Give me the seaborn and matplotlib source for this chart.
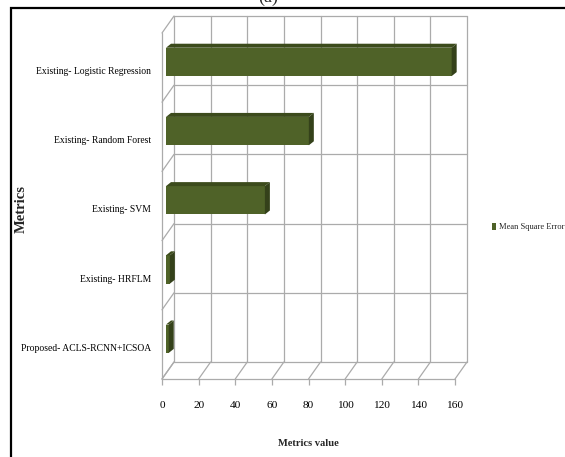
import numpy as np
import pandas as pd
import seaborn as sns
import matplotlib
matplotlib.use("Agg")
import matplotlib.pyplot as plt
from matplotlib.patches import Polygon, Rectangle
from matplotlib.lines import Line2D
from matplotlib.transforms import ScaledTranslation

# ---- data ----
models = [
    "Existing- Logistic Regression",
    "Existing- Random Forest",
    "Existing- SVM",
    "Existing- HRFLM",
    "Proposed- ACLS-RCNN+ICSOA",
]
mse = [156, 78, 54, 2.1, 1.5]
x_ticks = [0, 20, 40, 60, 80, 100, 120, 140, 160]
series_name = "Mean Square Error"

df = pd.DataFrame({"Model": models, "MSE": mse})

sns.set_theme(style="white")
plt.rcParams["font.family"] = ["Liberation Serif", "DejaVu Serif"]

DPI = 100
fig = plt.figure(figsize=(5.65, 4.57), dpi=DPI)
fig.patch.set_facecolor("white")
ax = fig.add_axes([162 / 565, 78 / 457, 293 / 565, 346 / 457])
ax.set_facecolor("none")

front = "#4F6228"
top_col = "#3C4B1C"
side_col = "#34411A"
grid_col = "#ababab"

# bars sit a little way into the depth of the 3-D box
bar_shift = ScaledTranslation(4 / DPI, 5.7 / DPI, fig.dpi_scale_trans)
sns.barplot(data=df, y="Model", x="MSE", orient="h", color=front,
            saturation=1, width=0.41, ax=ax, label=series_name, zorder=3)
ax.set_xlim(x_ticks[0], x_ticks[-1])
ax.set_ylim(len(models) - 0.5, -0.5)

bar_tr = ax.transData + bar_shift
xspan = x_ticks[-1] - x_ticks[0]
ddx = 5 * xspan / 293          # depth of bar faces in data units
ddy = 4 * len(models) / 346
for p in list(ax.patches):
    p.set_transform(bar_tr)
    p.set_edgecolor("none")
    x0, y0 = p.get_x(), p.get_y()
    x1, y1 = x0 + p.get_width(), y0 + p.get_height()
    top = Polygon([(x0, y0), (x1, y0), (x1 + ddx, y0 - ddy), (x0 + ddx, y0 - ddy)],
                  closed=True, facecolor=top_col, edgecolor="none",
                  transform=bar_tr, zorder=3, clip_on=False)
    side = Polygon([(x1, y0), (x1 + ddx, y0 - ddy), (x1 + ddx, y1 - ddy), (x1, y1)],
                   closed=True, facecolor=side_col, edgecolor="none",
                   transform=bar_tr, zorder=3, clip_on=False)
    ax.add_patch(top)
    ax.add_patch(side)

# ---- 3-D box: back wall, left wall and floor ----
DX, DY = 12 / 293, 17 / 346
lkw = dict(color=grid_col, lw=0.9, transform=ax.transAxes, clip_on=False, zorder=1)
fx = [(t - x_ticks[0]) / xspan for t in x_ticks]
bands = np.linspace(0, 1, len(models) + 1)

def seg(p, q, **kw):
    ax.add_line(Line2D([p[0], q[0]], [p[1], q[1]], **{**lkw, **kw}))

for f in fx:
    seg((f + DX, DY), (f + DX, 1 + DY))       # back wall verticals
    seg((f, 0), (f + DX, DY))                 # floor depth lines
for b in bands:
    seg((DX, b + DY), (1 + DX, b + DY))       # back wall horizontals
    seg((0, b), (DX, b + DY))                 # left wall
seg((0, 0), (0, 1))
seg((0, 0), (1, 0))

for s in ax.spines.values():
    s.set_visible(False)

ax.set_xticks(x_ticks)
ax.set_xticklabels([str(t) for t in x_ticks])
ax.tick_params(axis="x", length=4, width=0.9, color=grid_col, pad=12,
               labelsize=8.2, labelcolor="black", bottom=True, direction="out")
ax.tick_params(axis="y", length=0, pad=8, labelsize=6.9, labelcolor="black")
for lbl in ax.get_yticklabels():
    lbl.set_transform(lbl.get_transform() +
                      ScaledTranslation(0, -3 / DPI, fig.dpi_scale_trans))

ax.set_xlabel("")
ax.set_ylabel("")
fig.text(308 / 565, 1 - 444 / 457, "Metrics value", ha="center", va="center",
         fontsize=7.6, fontweight="bold")
fig.text(21 / 565, 1 - 209 / 457, "Metrics", ha="center", va="center",
         rotation=90, fontsize=10.5, fontweight="bold")

leg = ax.legend(loc="center left", bbox_to_anchor=(488 / 565, 1 - 227 / 457),
                bbox_transform=fig.transFigure, frameon=False, borderpad=0,
                handlelength=0.5, handleheight=1.0, handletextpad=0.3,
                fontsize=6.1)

# outer frame and panel letter
fig.add_artist(Rectangle((11 / 565, -0.2), 1.5, 1.2 - 8 / 457,
                         transform=fig.transFigure, fill=False,
                         edgecolor="black", lw=1.6, clip_on=False))
fig.text(268 / 565, 1 - 1.5 / 457, "(a)", ha="center", va="baseline",
         fontsize=13)

fig.savefig("out.png", dpi=DPI)
